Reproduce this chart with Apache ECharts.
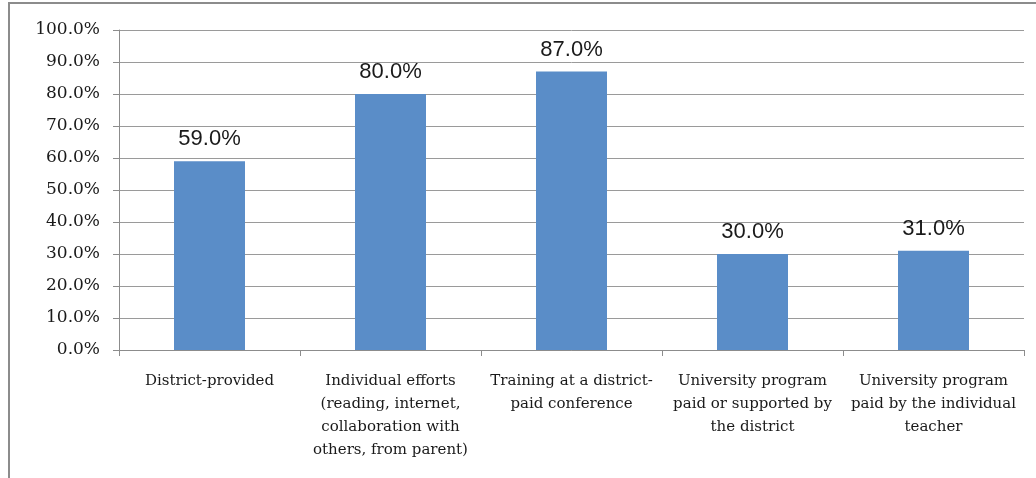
<!DOCTYPE html>
<html>
<head>
<meta charset="utf-8">
<style>
  html, body { margin: 0; padding: 0; background: #ffffff; }
  #chart { width: 1036px; height: 478px; }
</style>
<script src="https://cdn.jsdelivr.net/npm/echarts@6/dist/echarts.min.js"></script>
</head>
<body>
<div id="chart"></div>
<script>
// Sources of professional preparation (share of respondents, %)
const categories = [
  'District-provided',
  'Individual efforts\n(reading, internet,\ncollaboration with\nothers, from parent)',
  'Training at a district-\npaid conference',
  'University program\npaid or supported by\nthe district',
  'University program\npaid by the individual\nteacher'
];
const shares = [59.0, 80.0, 87.0, 30.0, 31.0];
const yMin = 0;
const yMax = 100;
const yStep = 10;

const chart = echarts.init(document.getElementById('chart'), null, { renderer: 'canvas' });

chart.setOption({
  animation: false,
  backgroundColor: '#ffffff',
  graphic: [{
    type: 'rect',
    shape: { x: 9, y: 3, width: 1200, height: 700 },
    style: { fill: 'none', stroke: '#8c8c8c', lineWidth: 2 },
    silent: true
  }],
  grid: { left: 119, right: 12, top: 30, bottom: 128, containLabel: false },
  xAxis: {
    type: 'category',
    data: categories,
    axisLine: { show: true, lineStyle: { color: '#8c8c8c', width: 1 } },
    axisTick: { show: true, alignWithLabel: false, length: 6, lineStyle: { color: '#8c8c8c' } },
    axisLabel: {
      interval: 0,
      margin: 20,
      fontFamily: 'DejaVu Serif',
      fontSize: 15,
      lineHeight: 23,
      color: '#1a1a1a',
      align: 'center',
      verticalAlign: 'top'
    },
    splitLine: { show: false }
  },
  yAxis: {
    type: 'value',
    min: yMin,
    max: yMax,
    interval: yStep,
    axisLine: { show: true, lineStyle: { color: '#8c8c8c', width: 1 } },
    axisTick: { show: true, length: 6, lineStyle: { color: '#8c8c8c' } },
    axisLabel: {
      margin: 19,
      fontFamily: 'DejaVu Serif',
      fontSize: 17,
      color: '#1a1a1a',
      formatter: v => v.toFixed(1) + '%'
    },
    splitLine: { show: true, lineStyle: { color: '#9a9a9a', width: 1 } }
  },
  series: [{
    type: 'bar',
    data: shares,
    barWidth: 71,
    itemStyle: { color: '#5a8dc8' },
    label: {
      show: true,
      position: 'top',
      distance: 11,
      fontFamily: 'Liberation Sans',
      fontSize: 22,
      color: '#1a1a1a',
      formatter: p => p.value.toFixed(1) + '%'
    }
  }]
});
</script>
</body>
</html>
